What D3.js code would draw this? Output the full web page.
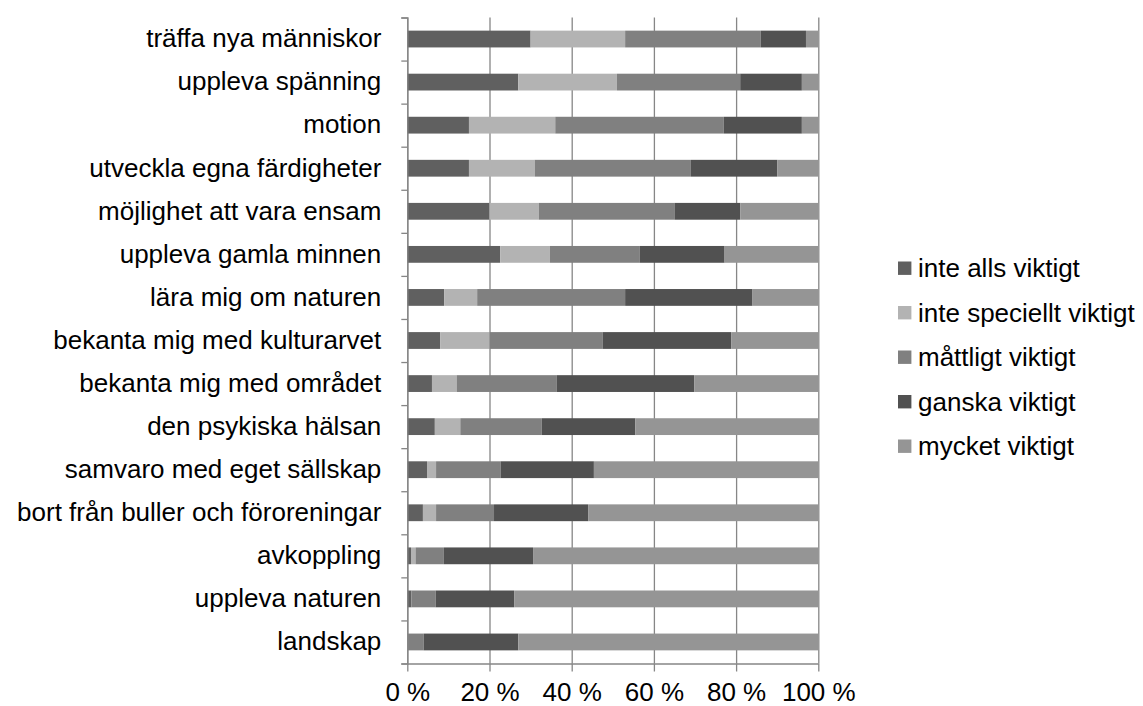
<!DOCTYPE html>
<html>
<head>
<meta charset="utf-8">
<script src="https://cdn.jsdelivr.net/npm/d3@7"></script>
<style>
  body { margin: 0; background: #fff; }
  svg text { font-family: "Liberation Sans", Arial, sans-serif; fill: #000; }
</style>
</head>
<body>
<svg width="1143" height="706"></svg>
<script>
var categories = [
  'träffa nya människor',
  'uppleva spänning',
  'motion',
  'utveckla egna färdigheter',
  'möjlighet att vara ensam',
  'uppleva gamla minnen',
  'lära mig om naturen',
  'bekanta mig med kulturarvet',
  'bekanta mig med området',
  'den psykiska hälsan',
  'samvaro med eget sällskap',
  'bort från buller och föroreningar',
  'avkoppling',
  'uppleva naturen',
  'landskap'
]

var seriesNames = ['inte alls viktigt', 'inte speciellt viktigt', 'måttligt viktigt', 'ganska viktigt', 'mycket viktigt']

// percent per category, same order as categories
var inteAlls      = [30, 27, 15, 15, 20, 22.6, 9, 8, 6, 6.7, 4.8, 3.8, 0.9, 1, 0]
var inteSpeciellt = [23, 24, 21, 16, 12, 12.1, 8, 12, 6, 6.2, 2.2, 3.2, 1.1, 0, 0]
var mattligt      = [33, 30, 41, 38, 33, 21.8, 36, 27.5, 24.3, 19.8, 15.7, 14.1, 6.9, 5.9, 4]
var ganska        = [11, 15, 19, 21, 16, 20.7, 31, 31.3, 33.5, 22.8, 22.7, 22.9, 21.7, 19.1, 23]
var mycket        = [3, 4, 4, 10, 19, 22.8, 16, 21.2, 30.2, 44.5, 54.6, 56, 69.4, 74, 73]

var xTicks = [0, 20, 40, 60, 80, 100]

var colors = ['#606060', '#b3b3b3', '#808080', '#515151', '#959595']

var table = categories.map(function (c, i) {
  return {
    name: c,
    'inte alls viktigt': inteAlls[i],
    'inte speciellt viktigt': inteSpeciellt[i],
    'måttligt viktigt': mattligt[i],
    'ganska viktigt': ganska[i],
    'mycket viktigt': mycket[i]
  }
})

var plot = { left: 407.3, right: 818.3, top: 17.5, bottom: 663.5 }
var fontSize = 26
var svg = d3.select('svg')

var x = d3.scaleLinear().domain([0, 100]).range([plot.left, plot.right])
var y = d3.scaleBand()
  .domain(categories)
  .range([plot.top, plot.bottom])
  .paddingInner(0.61)
  .paddingOuter(0.305)

var color = d3.scaleOrdinal().domain(seriesNames).range(colors)

// vertical grid lines
svg.append('g')
  .attr('transform', `translate(0, ${plot.top})`)
  .call(d3.axisBottom(x).tickValues(xTicks).tickSize(plot.bottom - plot.top).tickFormat(''))
  .call(g => g.select('.domain').remove())
  .selectAll('line')
  .attr('stroke', '#868686')
  .attr('stroke-width', 1.3)

var stacked = d3.stack().keys(seriesNames)(table)

svg.append('g').selectAll('g')
  .data(stacked)
  .enter()
  .append('g')
  .attr('fill', d => color(d.key))
  .selectAll('rect')
  .data(d => d)
  .enter()
  .append('rect')
  .attr('x', d => x(d[0]))
  .attr('width', d => x(d[1]) - x(d[0]))
  .attr('y', d => y(d.data.name))
  .attr('height', y.bandwidth())

// left axis: line and ticks at band boundaries
var bounds = d3.scaleLinear().domain([0, categories.length]).range([plot.top, plot.bottom])
svg.append('g')
  .attr('transform', `translate(${plot.left}, 0)`)
  .call(d3.axisLeft(bounds).ticks(categories.length).tickSize(6).tickSizeOuter(6).tickFormat(''))
  .call(g => g.selectAll('line, path').attr('stroke', '#868686').attr('stroke-width', 1.3))

// category labels
svg.append('g')
  .attr('transform', `translate(${plot.left}, 0)`)
  .call(d3.axisLeft(y).tickSize(0).tickPadding(26))
  .call(g => g.select('.domain').remove())
  .selectAll('text')
  .attr('font-size', fontSize)
  .style('font-family', '"Liberation Sans", Arial, sans-serif')

// bottom axis
svg.append('g')
  .attr('transform', `translate(0, ${plot.bottom})`)
  .call(d3.axisBottom(x).tickValues(xTicks).tickSize(8).tickSizeOuter(0).tickPadding(11).tickFormat(d => d + ' %'))
  .call(g => g.selectAll('line, path').attr('stroke', '#868686').attr('stroke-width', 1.3))
  .selectAll('text')
  .attr('font-size', fontSize)
  .style('font-family', '"Liberation Sans", Arial, sans-serif')

// legend
var legend = svg.append('g').attr('transform', 'translate(898, 268)')
var item = legend.selectAll('g')
  .data(seriesNames)
  .enter()
  .append('g')
  .attr('transform', (d, i) => `translate(0, ${i * 44.5})`)

item.append('rect')
  .attr('x', 0)
  .attr('y', -6.5)
  .attr('width', 13.4)
  .attr('height', 13.4)
  .attr('fill', d => color(d))

item.append('text')
  .attr('x', 20)
  .attr('dy', '0.35em')
  .attr('font-size', fontSize)
  .text(d => d)
</script>
</body>
</html>
